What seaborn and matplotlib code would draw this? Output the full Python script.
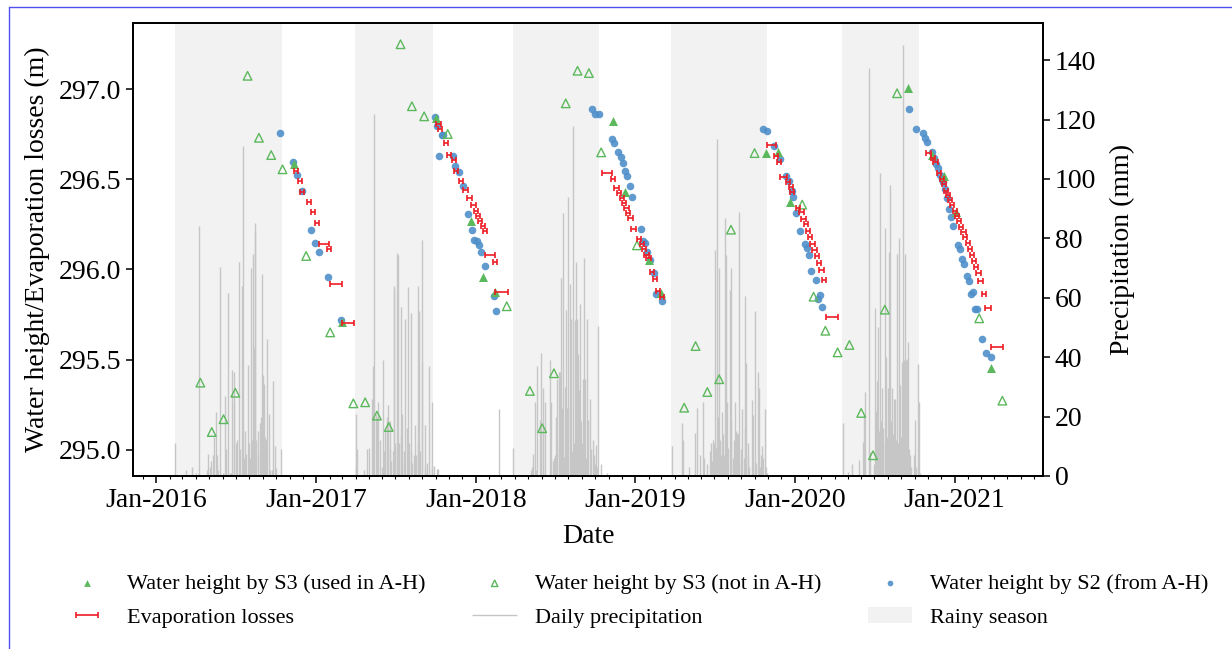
import numpy as np
import pandas as pd
import matplotlib
matplotlib.use("Agg")
import matplotlib.pyplot as plt
import matplotlib.dates as mdates
import seaborn as sns
from matplotlib.lines import Line2D
from matplotlib.patches import Patch

# ---------------- data ----------------
rain_start = ["2016-02-13", "2017-03-30", "2018-03-27", "2019-03-24", "2020-04-19"]
rain_end = ["2016-10-14", "2017-09-26", "2018-10-09", "2019-10-29", "2020-10-12"]

# daily precipitation: day offset from 1 January of the year, value in mm
p2016_day = [44, 69, 83, 91, 97, 116, 118, 124, 126, 131, 133, 136, 138, 142, 146, 153, 158, 160, 165, 169,
             172, 174, 177, 179, 183, 185, 190, 192, 197, 199, 201, 204, 206, 209, 212, 214, 216, 219, 221, 223,
             225, 226, 229, 232, 234, 237, 239, 242, 245, 247, 249, 252, 254, 257, 261, 264, 268, 271, 274, 286]
p2016_mm = [11, 2, 3, 1, 84, 2, 7.4, 3, 5, 7, 13, 21.6, 7, 2, 70.5, 1, 27, 9, 61.5, 1,
            1, 35.7, 35, 25, 11, 12, 72, 9, 64, 111, 6, 15, 7.5, 37.5, 11, 6, 70, 12, 74.7, 43.5,
            85, 82, 12, 7.5, 15, 18, 20, 68, 34, 31, 13, 12, 46, 21, 2, 2, 32, 10, 2.6, 9]
p2017_day = [90, 92, 94, 110, 117, 120, 127, 130, 133, 136, 139, 142, 145, 151, 154, 156, 158, 161, 163, 165,
             168, 170, 172, 175, 177, 179, 181, 184, 186, 188, 190, 193, 195, 197, 200, 202, 204, 207, 210, 213,
             216, 218, 220, 223, 225, 227, 229, 232, 234, 236, 238, 241, 243, 248, 250, 252, 254, 257, 264, 266,
             270, 276, 278]
p2017_mm = [21, 3, 9, 2, 9, 9.5, 26, 37, 121.7, 21, 20, 25, 12, 3, 39, 8.5, 15, 20, 14, 24,
            18.5, 9.5, 5, 8.5, 64, 63, 11, 75, 9.5, 74.5, 11, 14, 57, 21, 4, 8.5, 52.7, 16, 63.5, 11,
            55, 8.5, 4.5, 7, 17, 5, 7, 64, 11, 55.5, 8.5, 79.4, 38.5, 17, 3, 1, 4.5, 37, 25, 3,
            3.5, 2.5, 2.5]
p2018_day = [53, 86, 127, 129, 132, 136, 139, 141, 148, 150, 153, 155, 158, 171, 173, 176, 178, 181, 183, 185,
             187, 190, 192, 194, 196, 198, 200, 203, 205, 207, 210, 212, 215, 216, 219, 221, 223, 225, 228, 230,
             232, 235, 237, 239, 241, 244, 246, 248, 251, 253, 255, 258, 262, 264, 269, 271, 273, 276, 278, 280,
             286, 301]
p2018_mm = [22.5, 9.4, 2, 3, 7.5, 25, 2, 37, 19, 41.5, 15, 29.6, 25, 39, 25, 5, 6, 7, 20, 32.5,
            10, 35, 35, 14, 66.7, 23, 88.4, 6.4, 30, 56, 23, 94, 23, 64.5, 52.7, 8.4, 117.8, 11, 52.4, 72,
            52.7, 41, 29, 58, 18.5, 11, 32.5, 73.5, 32.5, 6, 53, 19, 26, 9, 12, 7, 4, 10.5, 3, 50.5,
            4, 1]
p2019_day = [83, 108, 110, 122, 137, 142, 149, 154, 158, 164, 170, 173, 175, 178, 180, 183, 185, 188, 190, 192,
             194, 197, 199, 201, 203, 206, 208, 210, 213, 216, 218, 220, 223, 225, 228, 230, 232, 235, 238, 241,
             243, 245, 248, 250, 252, 254, 257, 259, 261, 268, 270, 273, 275, 277, 280, 283, 286, 288, 291, 293,
             298, 300, 302]
p2019_mm = [10, 17.7, 12, 3, 14.5, 23, 7, 25, 6, 4, 8.4, 11, 5, 12, 11, 76, 9.5, 113.4, 20, 70,
            12, 7, 21.5, 14, 7, 87, 74.5, 25, 9.5, 62.5, 70, 18.5, 6, 12, 25, 15, 14.5, 14, 88.7, 4,
            9, 22.5, 6, 16.5, 60.5, 38, 11, 7, 3, 25.5, 20.5, 55.5, 3, 4.5, 35, 29.5, 3, 7, 10, 6,
            22.5, 3, 1]
p2020_day = [110, 121, 130, 146, 156, 158, 160, 170, 172, 181, 183, 185, 188, 190, 192, 194, 197, 199, 201, 203,
             206, 208, 210, 213, 215, 217, 220, 222, 224, 226, 229, 231, 233, 236, 238, 240, 242, 245, 247, 249,
             252, 254, 256, 259, 261, 263, 265, 272, 274, 277, 282, 284, 287]
p2020_mm = [18, 1.5, 4, 5.5, 11.5, 21, 28.4, 137.5, 8, 4, 56.4, 22, 32, 50, 15, 101.9, 18.5, 29.6, 16, 11,
            83.5, 40, 13, 29.6, 75.5, 98, 18.5, 29.6, 14, 26, 26, 12, 74.7, 11, 80, 30.6, 13, 38.4, 145, 39,
            74.6, 39, 39.5, 45, 9, 7, 3, 7, 19, 3, 37.6, 25, 1]

s3_used_date = ["2016-11-12", "2017-02-28", "2017-10-01", "2017-12-22", "2018-01-18", "2018-02-14",
                "2018-11-11", "2018-12-08", "2019-02-01", "2019-02-28", "2019-10-28", "2019-11-24",
                "2019-12-21", "2020-09-17", "2020-11-10", "2020-12-07", "2021-01-04", "2021-03-25"]
s3_used_h = [296.584, 295.707, 296.842, 296.267, 295.958, 295.877,
             296.822, 296.432, 296.053, 295.868, 296.648, 296.650,
             296.375, 297.006, 296.637, 296.519, 296.319, 295.452]

s3_not_date = ["2016-04-11", "2016-05-07", "2016-06-03", "2016-06-30", "2016-07-28", "2016-08-23",
               "2016-09-20", "2016-10-16", "2016-12-09", "2017-02-02", "2017-03-27", "2017-04-23",
               "2017-05-20", "2017-06-16", "2017-07-13", "2017-08-08", "2017-09-05", "2017-10-29",
               "2018-03-13", "2018-05-05", "2018-06-02", "2018-06-29", "2018-07-26", "2018-08-22",
               "2018-09-17", "2018-10-15", "2019-01-05", "2019-04-23", "2019-05-19", "2019-06-15",
               "2019-07-12", "2019-08-08", "2019-10-01", "2020-01-18", "2020-02-13", "2020-03-11",
               "2020-04-08", "2020-05-05", "2020-06-01", "2020-06-28", "2020-07-25", "2020-08-22",
               "2021-02-26", "2021-04-20"]
s3_not_h = [295.372, 295.098, 295.169, 295.316, 297.075, 296.731,
            296.635, 296.556, 296.075, 295.651, 295.257, 295.263,
            295.189, 295.126, 297.250, 296.906, 296.850, 296.752,
            295.796, 295.326, 295.119, 295.424, 296.922, 297.103,
            297.090, 296.650, 296.134, 295.233, 295.575, 295.320,
            295.391, 296.221, 296.646, 296.360, 295.849, 295.660,
            295.540, 295.581, 295.204, 294.969, 295.777, 296.978,
            295.729, 295.272]

s2_date = ["2016-10-11", "2016-11-09", "2016-11-19", "2016-11-29", "2016-12-19", "2016-12-29",
           "2017-01-08", "2017-01-27", "2017-02-27",
           "2017-09-29", "2017-10-04", "2017-10-10", "2017-10-15", "2017-10-19", "2017-11-09",
           "2017-11-14", "2017-11-24", "2017-12-04", "2017-12-14", "2017-12-24", "2017-12-28",
           "2018-01-03", "2018-01-08", "2018-01-13", "2018-01-23", "2018-02-12", "2018-02-17",
           "2018-09-25", "2018-09-30", "2018-10-09", "2018-11-09", "2018-11-13", "2018-11-23",
           "2018-11-29", "2018-12-03", "2018-12-08", "2018-12-13", "2018-12-19", "2018-12-24",
           "2019-01-14", "2019-01-18", "2019-01-24", "2019-01-29", "2019-02-03", "2019-02-12",
           "2019-02-17", "2019-03-04",
           "2019-10-20", "2019-10-30", "2019-11-14", "2019-11-29", "2019-12-13", "2019-12-19",
           "2019-12-25", "2019-12-29", "2020-01-04", "2020-01-14", "2020-01-24", "2020-01-28",
           "2020-02-03", "2020-02-08", "2020-02-18", "2020-02-23", "2020-02-28", "2020-03-04",
           "2020-09-19", "2020-10-05", "2020-10-20", "2020-10-25", "2020-10-30", "2020-11-10",
           "2020-11-14", "2020-11-19", "2020-11-24", "2020-11-28", "2020-12-02", "2020-12-05",
           "2020-12-09", "2020-12-14", "2020-12-18", "2020-12-24", "2020-12-28", "2021-01-08",
           "2021-01-13", "2021-01-18", "2021-01-23", "2021-01-28", "2021-02-02", "2021-02-07",
           "2021-02-12", "2021-02-16", "2021-02-21", "2021-03-04", "2021-03-13", "2021-03-24"]
s2_h = [296.756, 296.598, 296.523, 296.434, 296.221, 296.149,
        296.095, 295.957, 295.718,
        296.848, 296.796, 296.628, 296.748, 296.746, 296.632,
        296.574, 296.539, 296.462, 296.308, 296.218, 296.164,
        296.158, 296.136, 296.099, 296.019, 295.855, 295.770,
        296.889, 296.865, 296.861, 296.724, 296.704, 296.650,
        296.624, 296.589, 296.548, 296.519, 296.465, 296.404,
        296.225, 296.156, 296.149, 296.095, 296.054, 295.981,
        295.862, 295.824,
        296.781, 296.769, 296.685, 296.615, 296.519, 296.489,
        296.436, 296.402, 296.315, 296.215, 296.143, 296.119,
        296.079, 295.992, 295.943, 295.836, 295.857, 295.790,
        296.891, 296.781, 296.756, 296.731, 296.708, 296.654,
        296.619, 296.584, 296.562, 296.523, 296.502, 296.487,
        296.445, 296.398, 296.337, 296.293, 296.241, 296.138,
        296.115, 296.058, 296.029, 295.966, 295.938, 295.864,
        295.873, 295.781, 295.781, 295.616, 295.538, 295.513]

evap_date = ["2016-11-16", "2016-11-25", "2016-11-30", "2016-12-15", "2016-12-24", "2017-01-03",
             "2017-01-19", "2017-01-31", "2017-02-16", "2017-03-15",
             "2017-10-08", "2017-10-12", "2017-10-25", "2017-11-01", "2017-11-12", "2017-11-17",
             "2017-11-29", "2017-12-09", "2017-12-18", "2017-12-27", "2018-01-01", "2018-01-06",
             "2018-01-11", "2018-01-17", "2018-01-22", "2018-02-02", "2018-02-14", "2018-03-01",
             "2018-10-28", "2018-11-11", "2018-11-19", "2018-11-25", "2018-12-01", "2018-12-06",
             "2018-12-12", "2018-12-16", "2018-12-21", "2018-12-28", "2019-01-09", "2019-01-16",
             "2019-01-21", "2019-01-27", "2019-01-31", "2019-02-09", "2019-02-15", "2019-02-22",
             "2019-03-03",
             "2019-11-09", "2019-11-19", "2019-11-26", "2019-12-06", "2019-12-17", "2019-12-23",
             "2019-12-26", "2020-01-09", "2020-01-16", "2020-01-21", "2020-01-27", "2020-01-31",
             "2020-02-05", "2020-02-11", "2020-02-15", "2020-02-21", "2020-02-25", "2020-03-02",
             "2020-03-08", "2020-03-26",
             "2020-11-02", "2020-11-13", "2020-11-18", "2020-11-26", "2020-12-03", "2020-12-08",
             "2020-12-12", "2020-12-17", "2020-12-21", "2020-12-26", "2021-01-01", "2021-01-06",
             "2021-01-11", "2021-01-15", "2021-01-21", "2021-01-25", "2021-01-31", "2021-02-05",
             "2021-02-09", "2021-02-14", "2021-02-18", "2021-02-24", "2021-03-01", "2021-03-09",
             "2021-03-19", "2021-04-07"]
evap_h = [296.548, 296.489, 296.432, 296.375, 296.317, 296.260,
          296.142, 296.115, 295.921, 295.703,
          296.807, 296.780, 296.700, 296.635, 296.608, 296.548,
          296.493, 296.441, 296.395, 296.356, 296.326, 296.297,
          296.269, 296.241, 296.212, 296.080, 296.043, 295.873,
          296.534, 296.504, 296.454, 296.425, 296.395, 296.371,
          296.341, 296.312, 296.284, 296.223, 296.171, 296.141,
          296.114, 296.080, 296.062, 295.986, 295.949, 295.882,
          295.847,
          296.693, 296.630, 296.597, 296.515, 296.484, 296.459,
          296.430, 296.343, 296.317, 296.280, 296.250, 296.214,
          296.182, 296.140, 296.110, 296.073, 296.038, 295.999,
          295.940, 295.736,
          296.646, 296.617, 296.597, 296.534, 296.502, 296.474,
          296.437, 296.415, 296.386, 296.360, 296.323, 296.295,
          296.269, 296.238, 296.208, 296.179, 296.147, 296.115,
          296.080, 296.045, 296.012, 295.979, 295.936, 295.862,
          295.786, 295.570]
evap_halfdays = [5, 5, 5, 5, 5, 5, 12, 5, 14, 14,
                 5, 5, 5, 5, 5, 5, 5, 5, 5, 5, 5, 5, 5, 5, 5, 11, 5, 14,
                 12, 5, 5, 5, 5, 5, 5, 5, 5, 6, 5, 5, 5, 5, 5, 5, 5, 5, 5,
                 10, 5, 5, 8, 5, 5, 5, 5, 5, 5, 5, 5, 5, 5, 5, 5, 5, 5, 5, 14,
                 5, 5, 5, 5, 5, 5, 5, 5, 5, 5, 5, 5, 5, 5, 5, 5, 5, 5, 5, 5, 5, 5, 5, 5, 7, 14]

# ---------------- build tables ----------------
def season(year, days, mm):
    base = pd.Timestamp(f"{year}-01-01")
    return pd.DataFrame({"date": [base + pd.Timedelta(days=d) for d in days], "mm": mm})

precip = pd.concat([season(2016, p2016_day, p2016_mm), season(2017, p2017_day, p2017_mm),
                    season(2018, p2018_day, p2018_mm), season(2019, p2019_day, p2019_mm),
                    season(2020, p2020_day, p2020_mm)], ignore_index=True)
used = pd.DataFrame({"date": pd.to_datetime(s3_used_date), "h": s3_used_h})
notused = pd.DataFrame({"date": pd.to_datetime(s3_not_date), "h": s3_not_h})
s2 = pd.DataFrame({"date": pd.to_datetime(s2_date), "h": s2_h})
evap = pd.DataFrame({"date": pd.to_datetime(evap_date), "h": evap_h, "hw": evap_halfdays})

# ---------------- style ----------------
sns.set_theme(style="ticks")
plt.rcParams["font.family"] = ["Liberation Serif", "DejaVu Serif"]
plt.rcParams["axes.edgecolor"] = "black"
plt.rcParams["xtick.color"] = "black"
plt.rcParams["ytick.color"] = "black"
plt.rcParams["axes.labelcolor"] = "black"
plt.rcParams["text.color"] = "black"

GREEN = "#5cb85c"
BLUE = "#4f8fca"
GRAY = "#c6c6c6"
SHADE = "#f2f2f2"

fig = plt.figure(figsize=(12.32, 6.49), dpi=100)
ax = fig.add_axes([0.108, 0.2666, 0.7386, 0.698])
ax2 = ax.twinx()
ax.set_zorder(ax2.get_zorder() + 1)
ax.patch.set_visible(False)

for s, e in zip(rain_start, rain_end):
    ax2.axvspan(pd.Timestamp(s), pd.Timestamp(e), color=SHADE, lw=0, zorder=0)
prec_lines = ax2.vlines(precip["date"], 0, precip["mm"], colors=GRAY, lw=1.0, zorder=1)
ax2.set_ylim(0, 152.5)

sns.scatterplot(data=used, x="date", y="h", marker="^", s=42, color=GREEN, linewidth=0, ax=ax, zorder=4)
sns.scatterplot(data=notused, x="date", y="h", marker="^", s=38, fc="none", ec=GREEN, linewidth=1.0,
                ax=ax, zorder=4)
sns.scatterplot(data=s2, x="date", y="h", marker="o", s=30, color=BLUE, linewidth=0, alpha=0.9, ax=ax, zorder=3)
eb = ax.errorbar(mdates.date2num(evap["date"]), evap["h"], xerr=evap["hw"], fmt="none",
                 ecolor="#ee1c25", elinewidth=1.2, capsize=2.2, capthick=1.2, zorder=5)

h_used, h_not, h_s2 = ax.collections[0], ax.collections[1], ax.collections[2]

ax.set_xlim(pd.Timestamp("2015-11-09"), pd.Timestamp("2021-07-22"))
ax.set_ylim(294.854, 297.368)
ax.xaxis.set_major_locator(mdates.YearLocator())
ax.xaxis.set_minor_locator(mdates.MonthLocator())
ax.xaxis.set_major_formatter(mdates.DateFormatter("%b-%Y"))
ax.yaxis.set_major_locator(matplotlib.ticker.MultipleLocator(0.5))
ax.yaxis.set_major_formatter(matplotlib.ticker.FormatStrFormatter("%.1f"))
ax2.yaxis.set_major_locator(matplotlib.ticker.MultipleLocator(20))

for a in (ax, ax2):
    a.tick_params(axis="both", which="major", labelsize=20, length=5, width=1.1, direction="out")
    a.tick_params(axis="both", which="minor", length=2.5, width=0.8)
    for sp in a.spines.values():
        sp.set_visible(True)
        sp.set_color("black")
        sp.set_linewidth(1.3)

ax.set_xlabel("Date", fontsize=20, labelpad=8)
ax.set_ylabel("Water height/Evaporation losses (m)", fontsize=20, labelpad=6)
ax2.set_ylabel("Precipitation (mm)", fontsize=20, labelpad=10)

handles = [h_used, eb, h_not, prec_lines, h_s2, Patch(facecolor=SHADE, edgecolor="none")]
labels = ["Water height by S3 (used in A-H)", "Evaporation losses",
          "Water height by S3 (not in A-H)", "Daily precipitation",
          "Water height by S2 (from A-H)", "Rainy season"]
fig.legend(handles, labels, loc="upper center", bbox_to_anchor=(0.5168, 0.147), ncol=3,
           frameon=False, fontsize=16, markerscale=0.75, columnspacing=2.1, handletextpad=0.8,
           labelspacing=0.6)

# thin blue frame lines seen at the top and left of the picture
fig.add_artist(Line2D([0.0075, 1.0], [0.989, 0.989], transform=fig.transFigure, color="#5050f0", lw=1.0))
fig.add_artist(Line2D([0.0075, 0.0075], [0.0, 0.989], transform=fig.transFigure, color="#5050f0", lw=1.0))

fig.savefig("out.png", dpi=100)
